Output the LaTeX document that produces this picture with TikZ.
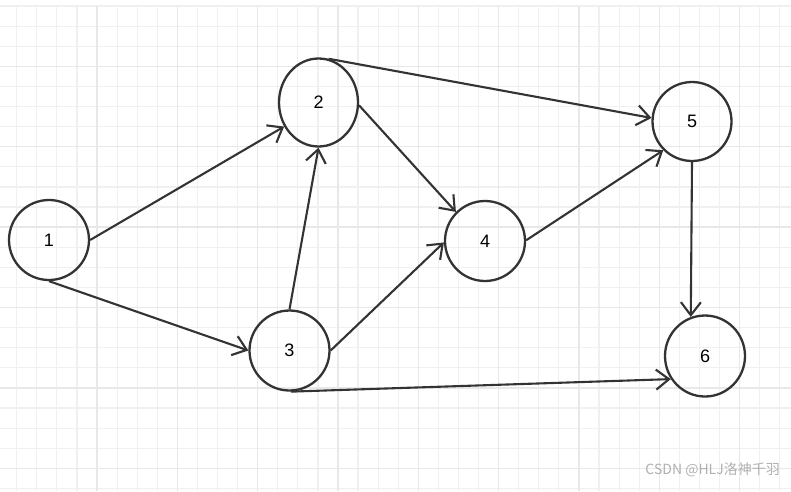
\documentclass[tikz,border=0pt]{standalone}
\usepackage{fontspec}
\setmainfont{Liberation Sans}
\newfontfamily\cjk{Noto Sans CJK SC}
\usetikzlibrary{arrows.meta,shapes.geometric}
\definecolor{Ink}{HTML}{333333}
\definecolor{GridMinor}{HTML}{F0F0F0}
\definecolor{GridMajor}{HTML}{E8E8E8}
\definecolor{Mark}{HTML}{B0B0B0}

\begin{document}
\begin{tikzpicture}[x=1pt,y=-1pt,font=\fontsize{18}{20}\selectfont,
    vtx/.style={ellipse,draw=Ink,line width=2.3pt,minimum width=80pt,minimum height=80pt,inner sep=0pt},
    edge/.style={draw=Ink,line width=2.1pt,-{Straight Barb[length=13pt,width=20pt]}}]
    \useasboundingbox (0,0) rectangle (791,491);
    \fill[white] (0,0) rectangle (791,491);
    \foreach \i in {0,...,38}{\draw[GridMinor,line width=1.2pt] ({16.7+20.08*\i},6)--({16.7+20.08*\i},491);}
    \foreach \j in {0,...,24}{\draw[GridMinor,line width=1.2pt] (0,{6+20.1*\j})--(791,{6+20.1*\j});}
    \foreach \i in {4,8,...,36}{\draw[GridMajor,line width=1.4pt] ({16.7+20.08*\i},6)--({16.7+20.08*\i},491);}
    \foreach \j in {3,7,...,23}{\draw[GridMajor,line width=1.4pt] (0,{6+20.1*\j})--(791,{6+20.1*\j});}
    \node[vtx] (n1) at (49,240){1};
    \node[vtx,minimum width=79pt,minimum height=88pt] (n2) at (318.5,102.5){2};
    \node[vtx] (n3) at (289.5,350.5){3};
    \node[vtx] (n4) at (485,241){4};
    \node[vtx,minimum width=79pt,minimum height=79pt] (n5) at (692,121.5){5};
    \node[vtx,minimum height=81pt] (n6) at (705,356){6};
    \draw[edge] (n1.0)--(n2.-145);
    \draw[edge] (n1.-90)--(n3.180);
    \draw[edge] (n3.90)--(n2.-90);
    \draw[edge] (n3.0)--(n4.182);
    \draw[edge] (n3.-88)--(n6.-146);
    \draw[edge] (n2.-4)--(n4.135);
    \draw[edge] (n2.77)--(n5.175);
    \draw[edge] (n4.1)--(n5.-135);
    \draw[edge] (n5.-90)--(n6.110);
    \node[text=Mark,font=\cjk\fontsize{14}{16}\selectfont,anchor=base east,inner sep=0pt] (mark) at (780,474){CSDN @HLJ洛神千羽};
  \end{tikzpicture}
\end{document}
